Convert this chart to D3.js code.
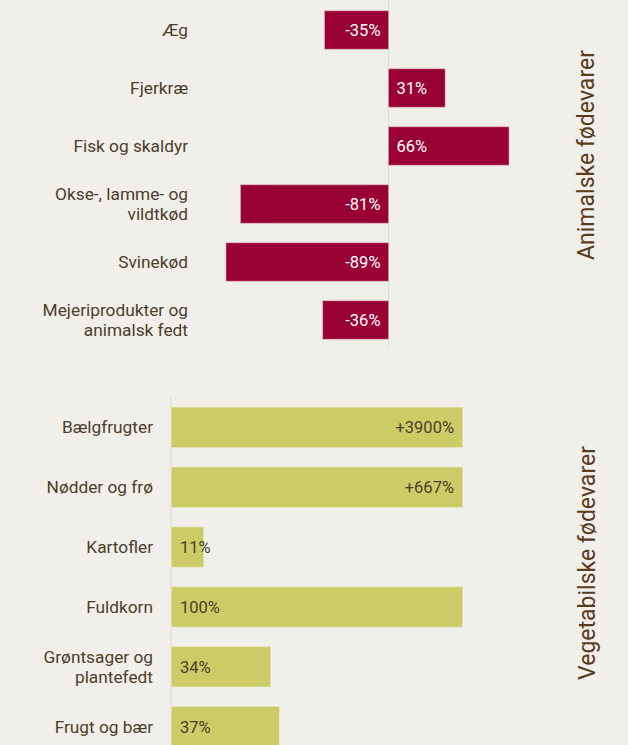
<!DOCTYPE html>
<html>
<head>
<meta charset="utf-8">
<script src="https://cdn.jsdelivr.net/npm/d3@7"></script>
<style>
  html, body { margin: 0; padding: 0; background: #f0efea; }
  svg { display: block; }
  text { font-family: "Liberation Sans Narrow", "Roboto", "Open Sans", sans-serif; }
</style>
</head>
<body>
<svg id="chart" width="628" height="745"></svg>
<script>
// Change in intake by food group (percent)
const animalCategories = ["Æg", "Fjerkræ", "Fisk og skaldyr", "Okse-, lamme- og\nvildtkød", "Svinekød", "Mejeriprodukter og\nanimalsk fedt"];
const animalValues = [-35, 31, 66, -81, -89, -36];
const animalLabels = ["-35%", "31%", "66%", "-81%", "-89%", "-36%"];

const plantCategories = ["Bælgfrugter", "Nødder og frø", "Kartofler", "Fuldkorn", "Grøntsager og\nplantefedt", "Frugt og bær"];
const plantValues = [3900, 667, 11, 100, 34, 37];
const plantLabels = ["+3900%", "+667%", "11%", "100%", "34%", "37%"];

const groupTitles = ["Animalske fødevarer", "Vegetabilske fødevarer"];

const svg = d3.select("#chart");
const textColor = "#4b3f2c";
const titleColor = "#5a3b1c";

function drawLabel(g, text, x, y, anchor) {
  const lines = text.split("\n");
  const t = g.append("text")
    .attr("x", x).attr("y", y)
    .attr("text-anchor", anchor)
    .attr("fill", textColor)
    .attr("font-size", 17.3);
  lines.forEach((ln, i) => {
    t.append("tspan")
      .attr("x", x)
      .attr("dy", i === 0 ? ((-(lines.length - 1) / 2) * 20 + 6) + "px" : "20px")
      .text(ln);
  });
}

// ---- Animal foods: diverging bars around zero ----
const xA = d3.scaleLinear().domain([-89, 66]).range([226, 509]);
const yA = d3.scaleBand().domain(animalCategories).range([1, 349]).paddingInner(0.34).paddingOuter(0.17);

const gA = svg.append("g");
gA.append("line")
  .attr("x1", xA(0)).attr("x2", xA(0))
  .attr("y1", 0).attr("y2", 346)
  .attr("stroke", "#dcdad3").attr("stroke-width", 1);

gA.selectAll("rect").data(animalValues).join("rect")
  .attr("x", d => Math.min(xA(0), xA(d)))
  .attr("width", d => Math.abs(xA(d) - xA(0)))
  .attr("y", (d, i) => yA(animalCategories[i]))
  .attr("height", yA.bandwidth())
  .attr("fill", "#990033")
  .attr("stroke", "#d9a5b3").attr("stroke-width", 0.6);

animalValues.forEach((v, i) => {
  const cy = yA(animalCategories[i]) + yA.bandwidth() / 2;
  gA.append("text")
    .attr("x", v < 0 ? xA(0) - 8 : xA(0) + 8)
    .attr("y", cy + 6)
    .attr("text-anchor", v < 0 ? "end" : "start")
    .attr("fill", "#ffffff")
    .attr("font-size", 16.5)
    .text(animalLabels[i]);
  drawLabel(gA, animalCategories[i], 188, cy, "end");
});

gA.append("text")
  .attr("transform", `translate(594,155) rotate(-90)`)
  .attr("text-anchor", "middle")
  .attr("fill", titleColor)
  .attr("font-size", 23)
  .attr("font-family", "'Open Sans', sans-serif")
  .text(groupTitles[0]);

// ---- Plant foods: bars from zero, capped at the axis maximum ----
const xP = d3.scaleLinear().domain([0, 100]).range([171, 462]).clamp(true);
const yP = d3.scaleBand().domain(plantCategories).range([397, 757]).paddingInner(0.33).paddingOuter(0.17);

const gP = svg.append("g");
gP.append("line")
  .attr("x1", xP(0)).attr("x2", xP(0))
  .attr("y1", 397).attr("y2", 745)
  .attr("stroke", "#dcdad3").attr("stroke-width", 1);

gP.selectAll("rect").data(plantValues).join("rect")
  .attr("x", xP(0) + 0.5)
  .attr("width", d => xP(d) - xP(0))
  .attr("y", (d, i) => yP(plantCategories[i]))
  .attr("height", yP.bandwidth())
  .attr("fill", "#cccc66")
  .attr("stroke", "#e3e2b4").attr("stroke-width", 0.6);

plantValues.forEach((v, i) => {
  const cy = yP(plantCategories[i]) + yP.bandwidth() / 2;
  const over = v > 100;
  gP.append("text")
    .attr("x", over ? xP(v) - 8 : xP(0) + 9)
    .attr("y", cy + 6)
    .attr("text-anchor", over ? "end" : "start")
    .attr("fill", textColor)
    .attr("font-size", 16.5)
    .text(plantLabels[i]);
  drawLabel(gP, plantCategories[i], 153, cy, "end");
});

gP.append("text")
  .attr("transform", `translate(595,563) rotate(-90)`)
  .attr("text-anchor", "middle")
  .attr("fill", titleColor)
  .attr("font-size", 23)
  .attr("font-family", "'Open Sans', sans-serif")
  .text(groupTitles[1]);
</script>
</body>
</html>
